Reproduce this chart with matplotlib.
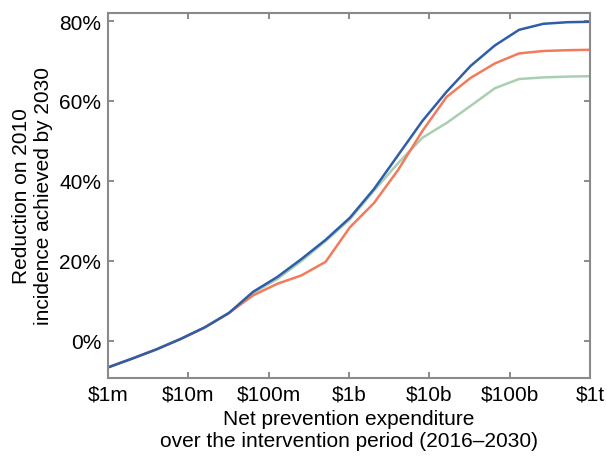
import matplotlib
matplotlib.use("Agg")
import matplotlib.pyplot as plt
from matplotlib.ticker import FixedLocator, NullLocator

plt.rcParams['font.family'] = ['Liberation Sans', 'DejaVu Sans']

# spend levels in $ million (doubling steps), capped at $1t
spend_m = [1, 2, 4, 8, 16, 32, 64, 128, 256, 512, 1024, 2048, 4096, 8192,
           16384, 32768, 65536, 131072, 262144, 524288, 1000000]

# reduction on 2010 incidence achieved by 2030 (%)
blue_vals = [-6.6, -4.4, -2.1, 0.5, 3.4, 7.0, 12.3, 16.0, 20.5, 25.3, 30.8,
             38.0, 46.5, 55.0, 62.3, 68.8, 73.9, 77.8, 79.3, 79.7, 79.8]
orange_vals = [-6.6, -4.4, -2.1, 0.5, 3.4, 7.0, 11.4, 14.3, 16.4, 19.8, 28.4,
               34.5, 42.8, 52.5, 61.0, 65.8, 69.4, 71.9, 72.5, 72.7, 72.8]
green_vals = [-6.6, -4.4, -2.1, 0.5, 3.4, 7.0, 12.0, 15.5, 20.0, 25.0, 30.4,
              37.6, 44.5, 50.8, 54.5, 58.8, 63.2, 65.5, 65.9, 66.1, 66.2]

tick_vals = [1e6, 1e7, 1e8, 1e9, 1e10, 1e11, 1e12]
tick_labels = ['$1m', '$10m', '$100m', '$1b', '$10b', '$100b', '$1t']
y_ticks = [0, 20, 40, 60, 80]

spend = [v * 1e6 for v in spend_m]

fig = plt.figure(figsize=(6.07, 4.60), dpi=100)
ax = fig.add_axes([108 / 607, 81 / 460, 482 / 607, 365 / 460])

ax.plot(spend, green_vals, color='#a9cfb3', lw=1.8)
ax.plot(spend, orange_vals, color='#f27b5b', lw=1.8)
ax.plot(spend, blue_vals, color='#2f5ea8', lw=1.8)

ax.set_xscale('log')
ax.set_xlim(1e6, 1e12)
ax.set_ylim(-9.25, 82)
ax.xaxis.set_major_locator(FixedLocator(tick_vals))
ax.xaxis.set_minor_locator(NullLocator())
ax.set_xticklabels(tick_labels)
ax.set_yticks(y_ticks)
ax.set_yticklabels([f'{v}%' for v in y_ticks])

ax.tick_params(direction='in', length=4, width=1.2, color='#777777',
               top=True, right=True, labelsize=15, pad=5)
for s in ax.spines.values():
    s.set_color('#8a8a8a')
    s.set_linewidth(1.5)

ax.set_xlabel('Net prevention expenditure\nover the intervention period (2016\u20132030)',
              fontsize=15, labelpad=4, linespacing=1.2)
ax.set_ylabel('Reduction on 2010\nincidence achieved by 2030',
              fontsize=15, labelpad=4, linespacing=1.2)

fig.savefig('out.png', dpi=100)
